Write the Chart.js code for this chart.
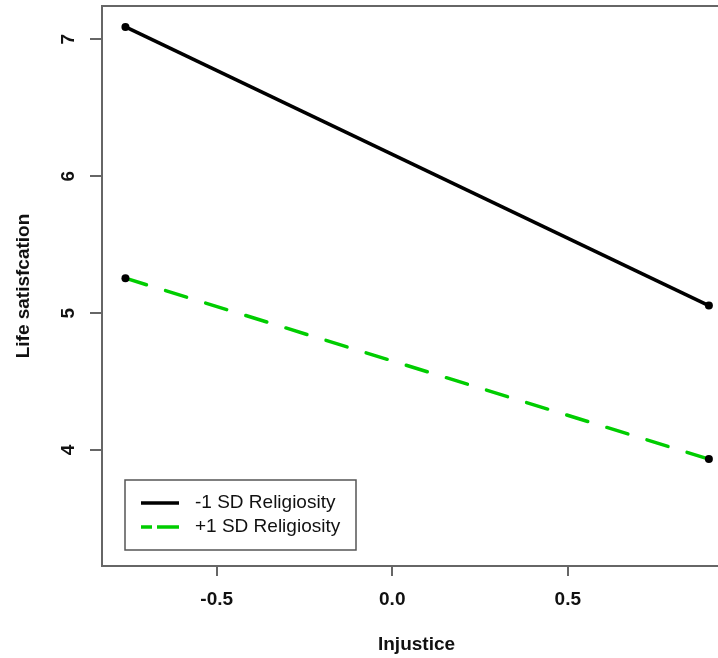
<!DOCTYPE html>
<html>
<head>
<meta charset="utf-8">
<script src="https://cdn.jsdelivr.net/npm/chart.js@4/dist/chart.umd.min.js"></script>
<style>
  html, body { margin: 0; padding: 0; background: #fff; overflow: hidden; }
  #wrap { width: 735px; height: 658px; }
</style>
</head>
<body>
<div id="wrap"><canvas id="c" width="735" height="658"></canvas></div>
<script>
// ---- data ----
const injustice = [-0.76, 0.902];
const lowReligiosity = [7.09, 5.055];
const highReligiosity = [5.255, 3.934];
const seriesLabels = ['-1 SD Religiosity', '+1 SD Religiosity'];
const xTickValues = [-0.5, 0.0, 0.5];
const yTickValues = [4, 5, 6, 7];
const xTitle = 'Injustice';
const yTitle = 'Life satisfcation';

const FONT = '"Liberation Sans", Arial, Helvetica, sans-serif';
const AXIS_COLOR = '#666666';
const TEXT_COLOR = '#111111';

const toPoints = (xs, ys) => xs.map((x, i) => ({x: x, y: ys[i]}));

const frameAndLegend = {
  id: 'frameAndLegend',
  afterDraw(chart) {
    const {ctx, chartArea: a} = chart;
    ctx.save();
    // top and right frame lines
    ctx.strokeStyle = AXIS_COLOR;
    ctx.lineWidth = 2;
    ctx.beginPath();
    ctx.moveTo(a.left, a.top);
    ctx.lineTo(a.right, a.top);
    ctx.lineTo(a.right, a.bottom);
    ctx.stroke();

    // legend box
    const bx = 125, by = 480, bw = 231, bh = 70;
    ctx.lineWidth = 1.5;
    ctx.strokeStyle = '#555555';
    ctx.strokeRect(bx, by, bw, bh);
    const rows = [503, 527];
    chart.data.datasets.forEach((ds, i) => {
      const y = rows[i];
      ctx.beginPath();
      ctx.strokeStyle = ds.borderColor;
      ctx.lineWidth = ds.borderWidth;
      ctx.lineCap = 'butt';
      ctx.setLineDash(ds.borderDash && ds.borderDash.length ? [11, 5, 22, 100] : []);
      ctx.moveTo(141, y);
      ctx.lineTo(179, y);
      ctx.stroke();
      ctx.setLineDash([]);
      ctx.fillStyle = TEXT_COLOR;
      ctx.font = '19px ' + FONT;
      ctx.textAlign = 'left';
      ctx.textBaseline = 'middle';
      ctx.fillText(ds.label, 195, y);
    });
    ctx.restore();
  }
};

new Chart(document.getElementById('c'), {
  type: 'scatter',
  data: {
    datasets: [
      {
        label: seriesLabels[0],
        data: toPoints(injustice, lowReligiosity),
        showLine: true,
        borderColor: '#000000',
        borderWidth: 3.5,
        borderDash: [],
        pointRadius: 4,
        pointBackgroundColor: '#000000',
        pointBorderWidth: 0
      },
      {
        label: seriesLabels[1],
        data: toPoints(injustice, highReligiosity),
        showLine: true,
        borderColor: '#00cd00',
        borderWidth: 3.5,
        borderDash: [22, 20],
        borderCapStyle: 'round',
        pointRadius: 4,
        pointBackgroundColor: '#000000',
        pointBorderColor: '#000000',
        pointBorderWidth: 0
      }
    ]
  },
  options: {
    responsive: false,
    animation: false,
    devicePixelRatio: 1,
    layout: { padding: { top: 6, right: 4, left: 0, bottom: 0 } },
    plugins: { legend: { display: false }, tooltip: { enabled: false } },
    scales: {
      x: {
        type: 'linear',
        min: -0.8268,
        max: 0.965,
        afterFit: s => { s.height = 92; s.paddingLeft = 0; s.paddingRight = 0; s.paddingTop = 0; s.paddingBottom = 0; },
        afterBuildTicks: s => { s.ticks = xTickValues.map(v => ({value: v})); },
        grid: { display: true, drawOnChartArea: false, drawTicks: true, tickLength: 10, color: AXIS_COLOR, lineWidth: 2 },
        border: { display: true, color: AXIS_COLOR, width: 2 },
        ticks: {
          padding: 12,
          color: TEXT_COLOR,
          font: { family: FONT, size: 19, weight: 'bold' },
          callback: v => v.toFixed(1)
        },
        title: {
          display: true, text: xTitle, color: TEXT_COLOR,
          font: { family: FONT, size: 19, weight: 'bold' },
          padding: { top: 0, bottom: 2 }
        }
      },
      y: {
        type: 'linear',
        min: 3.153,
        max: 7.243,
        afterFit: s => { s.width = 102; s.paddingTop = 0; s.paddingBottom = 0; s.paddingLeft = 0; s.paddingRight = 0; },
        afterBuildTicks: s => { s.ticks = yTickValues.map(v => ({value: v})); },
        grid: { display: true, drawOnChartArea: false, drawTicks: true, tickLength: 12, color: AXIS_COLOR, lineWidth: 2 },
        border: { display: true, color: AXIS_COLOR, width: 2 },
        ticks: {
          padding: 16,
          minRotation: 90,
          maxRotation: 90,
          crossAlign: 'center',
          color: TEXT_COLOR,
          font: { family: FONT, size: 19, weight: 'bold' },
          callback: v => String(v)
        },
        title: {
          display: true, text: yTitle, color: TEXT_COLOR,
          font: { family: FONT, size: 19, weight: 'bold' },
          padding: { top: 12, bottom: 0 }
        }
      }
    }
  },
  plugins: [frameAndLegend]
});
</script>
</body>
</html>
